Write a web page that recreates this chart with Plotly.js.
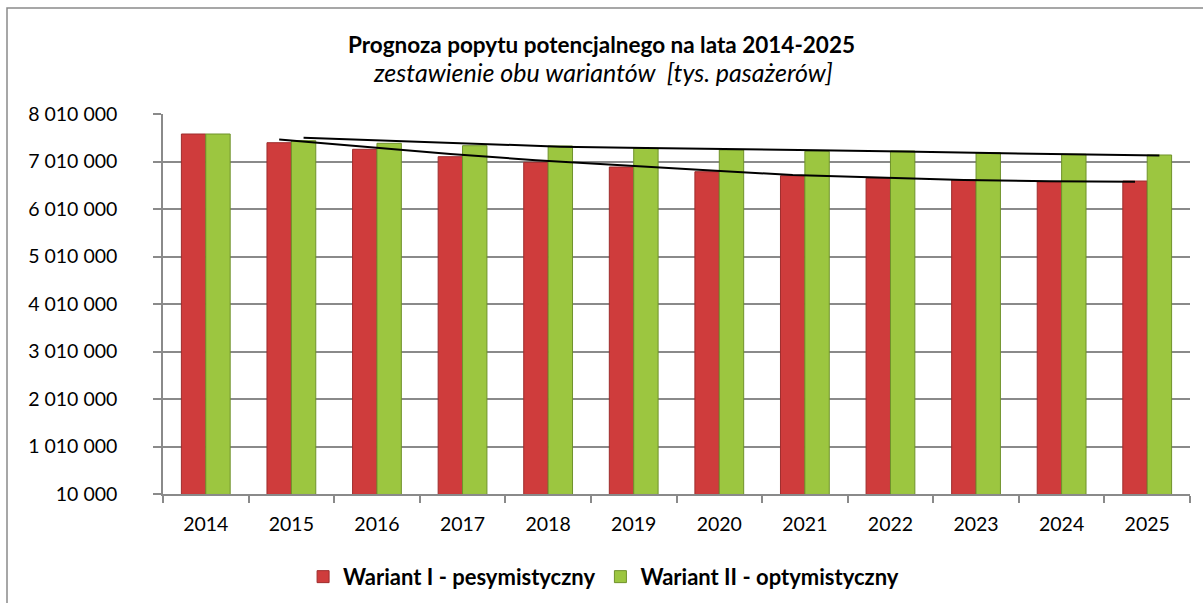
<!DOCTYPE html>
<html>
<head>
<meta charset="utf-8">
<script src="https://cdn.plot.ly/plotly-3.0.1.min.js"></script>
<style>
html, body { margin: 0; padding: 0; background: #ffffff; }
#chart { width: 1203px; height: 603px; }
</style>
</head>
<body>
<div id="chart"></div>
<script>
// ---- data ----
const years = ['2014','2015','2016','2017','2018','2019','2020','2021','2022','2023','2024','2025'];
const wariantI = [7589000, 7406000, 7267000, 7111000, 6993000, 6894000, 6795000, 6711000, 6656000, 6621000, 6585000, 6599000];
const wariantII = [7589000, 7448000, 7393000, 7343000, 7336000, 7288000, 7252000, 7225000, 7231000, 7195000, 7162000, 7147000];
const trendYears = ['2015','2016','2017','2018','2019','2020','2021','2022','2023','2024','2025'];
const trendI = [7473000, 7319000, 7168000, 7037000, 6926000, 6827000, 6726000, 6667000, 6618000, 6593000, 6585000];
const trendII = [7511000, 7446000, 7381000, 7322000, 7292000, 7273000, 7246000, 7218000, 7191000, 7172000, 7134000];
const yTickVals = [10000, 1010000, 2010000, 3010000, 4010000, 5010000, 6010000, 7010000, 8010000];
const yTickLabels = ['10 000', '1 010 000', '2 010 000', '3 010 000', '4 010 000', '5 010 000', '6 010 000', '7 010 000', '8 010 000'];
const seriesNames = ['Wariant I - pesymistyczny', 'Wariant II - optymistyczny'];
const titleText = 'Prognoza popytu potencjalnego na lata 2014-2025';
const subtitleText = 'zestawienie obu wariantów  [tys. pasażerów]';

const FONT = 'Lato, "Open Sans", sans-serif';
const axisGray = '#8a8a8a';

const traces = [
  {
    type: 'bar', name: seriesNames[0], x: years, y: wariantI, offsetgroup: 'a',
    marker: { color: '#cf3c3c', line: { color: '#9e2d2d', width: 1 } },
    hoverinfo: 'x+y'
  },
  {
    type: 'bar', name: seriesNames[1], x: years, y: wariantII, offsetgroup: 'b',
    marker: { color: '#9cc640', line: { color: '#6f922b', width: 1 } },
    hoverinfo: 'x+y'
  },
  {
    type: 'scatter', mode: 'lines', x: trendYears, y: trendI, offsetgroup: 'a',
    line: { color: '#000000', width: 2 }, showlegend: false, hoverinfo: 'skip'
  },
  {
    type: 'scatter', mode: 'lines', x: trendYears, y: trendII, offsetgroup: 'b',
    line: { color: '#000000', width: 2 }, showlegend: false, hoverinfo: 'skip'
  }
];

const layout = {
  width: 1203, height: 603,
  margin: { l: 163, r: 13, t: 114, b: 109, autoexpand: false },
  paper_bgcolor: '#ffffff', plot_bgcolor: '#ffffff',
  font: { family: FONT, color: '#000000', size: 18 },
  barmode: 'group', bargap: 0.43, bargroupgap: 0,
  scattermode: 'group', scattergap: 0.43,
  title: {
    text: '<b>' + titleText + '</b>',
    font: { family: FONT, size: 22.5, color: '#000000' },
    x: 0.5, xref: 'container', xanchor: 'center',
    y: 1 - 45 / 603, yref: 'container', yanchor: 'middle',
    automargin: false
  },
  annotations: [{
    text: '<i>' + subtitleText + '</i>',
    xref: 'paper', yref: 'paper', x: (603 - 163) / 1027, y: (494 - 72) / 380,
    xanchor: 'center', yanchor: 'middle', showarrow: false,
    font: { family: FONT, size: 25, color: '#000000' }
  }],
  xaxis: {
    type: 'category',
    showline: true, linecolor: axisGray, linewidth: 1.5,
    ticks: 'outside', tickson: 'boundaries', ticklen: 7, tickcolor: axisGray, tickwidth: 1.5,
    showgrid: false, zeroline: false,
    tickfont: { family: FONT, size: 19.5, color: '#000000' },
    ticklabelstandoff: 12
  },
  yaxis: {
    range: [10000, 8010000],
    tickmode: 'array', tickvals: yTickVals, ticktext: yTickLabels,
    showline: true, linecolor: axisGray, linewidth: 1.5,
    ticks: 'outside', ticklen: 8, tickcolor: axisGray, tickwidth: 1.5,
    showgrid: true, gridcolor: axisGray, gridwidth: 1.5, zeroline: false,
    tickfont: { family: FONT, size: 19.5, color: '#000000' },
    ticklabelstandoff: 32
  },
  showlegend: true,
  legend: {
    orientation: 'h', x: 0.429, xanchor: 'center', y: -0.218, yanchor: 'middle',
    font: { family: FONT, size: 22, color: '#000000', weight: 'bold' },
    itemwidth: 30, traceorder: 'normal'
  },
  shapes: [{
    type: 'rect', xref: 'paper', yref: 'paper',
    x0: (7 - 163) / 1027, x1: (1215 - 163) / 1027,
    y0: (494 - 640) / 380, y1: (494 - 8) / 380,
    line: { color: axisGray, width: 1.5 }, fillcolor: 'rgba(0,0,0,0)', layer: 'below'
  }]
};

Plotly.newPlot('chart', traces, layout, { displayModeBar: false, responsive: false });
</script>
</body>
</html>
